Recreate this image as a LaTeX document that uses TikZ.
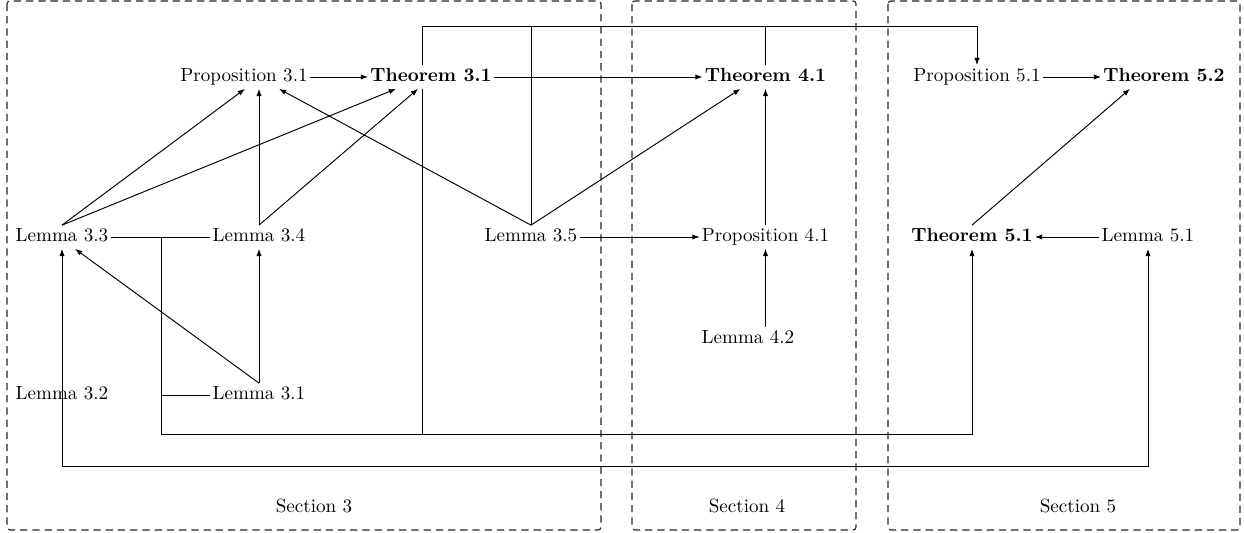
\documentclass[tikz,border=0pt]{standalone}
\usetikzlibrary{arrows.meta,calc}
\tikzset{
  lem/.style={inner xsep=1pt, inner ysep=1.5pt, text height=7pt, text depth=2pt},
  thm/.style={lem, font=\bfseries},
  seclabel/.style={inner sep=1pt},
  secbox/.style={draw=black!85, dash pattern=on 3.8pt off 2.6pt, line width=0.6pt, rounded corners=1.5pt},
  ln/.style={line width=0.5pt},
  arr/.style={ln, -{Latex[length=3.8pt,width=2.8pt]}}
}
\begin{document}
\begin{tikzpicture}[x=0.5235pt, y=-0.5235pt]
\useasboundingbox (0,0) rectangle (1244,533);
% section boxes
\draw[secbox] (7,1) rectangle (601,530);
\draw[secbox] (632,1) rectangle (856,530);
\draw[secbox] (888,1) rectangle (1240,530);
\node[seclabel] (S3) at (314,506) {Section 3};
\node[seclabel] (S4) at (747,506) {Section 4};
\node[seclabel] (S5) at (1078,506) {Section 5};
% nodes
\node[lem] (P31) at (244,77) {Proposition 3.1};
\node[thm] (T31) at (431,77) {Theorem 3.1};
\node[thm] (T41) at (765.5,77) {Theorem 4.1};
\node[lem] (P51) at (977,77) {Proposition 5.1};
\node[thm] (T52) at (1164,77) {Theorem 5.2};
\node[lem] (L33) at (62,237) {Lemma 3.3};
\node[lem] (L34) at (259,237) {Lemma 3.4};
\node[lem] (L35) at (531,237) {Lemma 3.5};
\node[lem] (P41) at (765.5,237) {Proposition 4.1};
\node[thm] (T51) at (972,237) {Theorem 5.1};
\node[lem] (L51) at (1148,237) {Lemma 5.1};
\node[lem] (L42) at (748,339) {Lemma 4.2};
\node[lem] (L32) at (62,395) {Lemma 3.2};
\node[lem] (L31) at (259,395) {Lemma 3.1};
% helper coordinates
\coordinate (topline) at (0,26);
\coordinate (busA) at (0,434);
\coordinate (busB) at (0,466);
\coordinate (jx) at (161,0);
\coordinate (t31n) at ($(T31.north)+(-9,0)$);
\coordinate (t31s) at ($(T31.south)+(-9,0)$);
% horizontal edges
\draw[arr] (P31) -- (T31);
\draw[arr] (T31) -- (T41);
\draw[arr] (P51) -- (T52);
\draw[arr] (L35) -- (P41);
\draw[arr] (L51) -- (T51);
% diagonal / vertical edges
\draw[arr] (L33.north) -- ($(P31.south)+(1,0)$);
\draw[arr] (L33.north) -- ($(T31.south)+(-35,0)$);
\draw[arr] (L34.north) -- ($(P31.south)+(15,0)$);
\draw[arr] (L34.north) -- ($(T31.south)+(-13,0)$);
\draw[arr] (L35.north) -- ($(P31.south)+(35,0)$);
\draw[arr] (L35.north) -- ($(T41.south)+(-25,0)$);
\draw[arr] (P41.north) -- (T41.south);
\draw[arr] (P41.south |- L42.north) -- (P41.south);
\draw[arr] (T51.north) -- ($(T52.south)+(-34,0)$);
\draw[arr] (L31.north) -- (L34.south);
\draw[arr] (L31.north) -- ($(L33.south)+(13,0)$);
\draw[arr] (L32.center) -- (L33.south);
% routed edges over the top (shared trunk into Proposition 5.1)
\draw[arr] (t31n) |- (topline -| P51) -- (P51.north);
\draw[ln] (L35.north) -- (L35.north |- topline);
\draw[ln] (T41.north) -- (T41.north |- topline);
% routed edges along the bottom (shared trunk into Theorem 5.1)
\draw[arr] (L33.east) -| (jx |- busA) -| (T51.south);
\draw[ln] (L34.west) -- (jx |- L34.west);
\draw[ln] (L31.west) -- (jx |- L31.west);
\draw[ln] (t31s) -- (t31s |- busA);
% Lemma 3.2 to Lemma 5.1
\draw[arr] (L32.center) -- (L32.center |- busB) -| (L51.south);
\end{tikzpicture}
\end{document}
